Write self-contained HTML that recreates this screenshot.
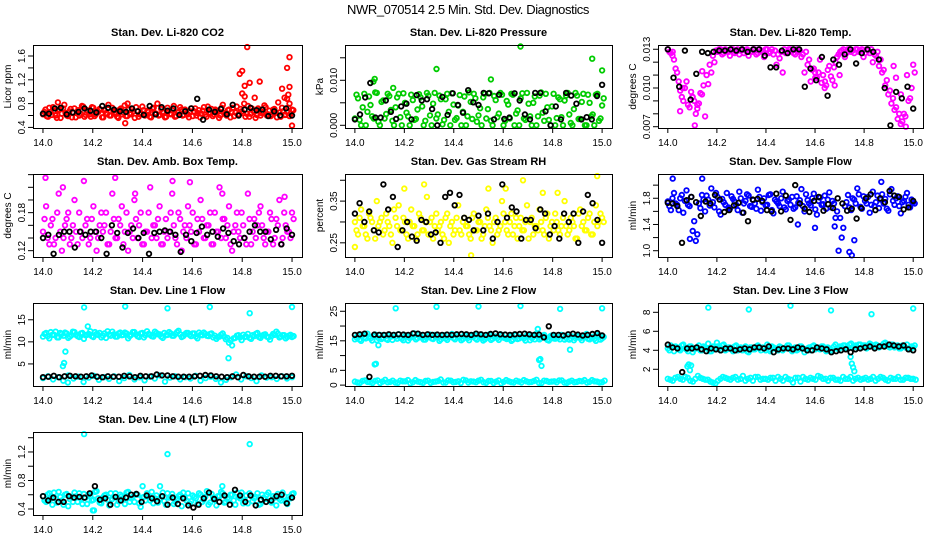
<!DOCTYPE html>
<html><head><meta charset="utf-8"><style>
body{margin:0;background:#fff;}
svg{display:block;font-family:"Liberation Sans",sans-serif;}
</style></head><body>
<svg id="chart" width="936" height="540" viewBox="0 0 936 540">
<rect width="936" height="540" fill="#fff"/>
<text x="468" y="14" text-anchor="middle" font-size="13" letter-spacing="-0.4">NWR_070514  2.5 Min. Std. Dev. Diagnostics</text>
</svg>
<script>
// ---- data ----
const xTicks = [14.0,14.2,14.4,14.6,14.8,15.0];
const xTickLabels = ["14.0","14.2","14.4","14.6","14.8","15.0"];

const co2Main = [0.62,0.70,0.58,0.66,0.74,0.60,0.68,0.56,0.72,0.64,0.59,0.71,0.65,0.57,0.69,0.63,0.75,0.61,0.67,0.58,0.73,0.62,0.66,0.70,0.57,0.64,0.78,0.60,0.68,0.63,0.56,0.72,0.65,0.59,0.70,0.62,0.67,0.74,0.58,0.64,0.69,0.61,0.66,0.57,0.73,0.63,0.60,0.71,0.65,0.58,0.68,0.62,0.76,0.59,0.66,0.70,0.61,0.64,0.57,0.72,0.67,0.60,0.69,0.63,0.74,0.58,0.65,0.71,0.62,0.68,0.56,0.73,0.64,0.60,0.70,0.66,0.59,0.75,0.62,0.67,0.80,0.63,0.58,0.72,0.66,0.61,0.69,0.64,0.77,0.60,0.68,0.62,0.71,0.57,0.65,0.73,0.61,0.66,0.59,0.70];
const co2MainB = [0.66,0.59,0.73,0.61,0.68,0.56,0.70,0.63,0.78,0.60,0.67,0.57,0.72,0.64,0.60,0.76,0.58,0.69,0.62,0.74,0.59,0.66,0.71,0.57,0.68,0.63,0.60,0.73,0.65,0.58,0.70,0.62,0.77,0.59,0.64,0.71,0.56,0.67,0.62,0.75,0.60,0.68,0.58,0.72,0.64,0.80,0.61,0.66,0.57,0.73,0.63,0.69,0.58,0.65,0.74,0.60,0.70,0.62,0.67,0.59,0.72,0.64,0.57,0.68,0.61,0.75,0.63,0.59,0.70,0.66,0.60,0.78,0.62,0.69,0.57,0.73,0.65,0.61,0.71,0.64,0.58,0.76,0.63,0.68,0.56,0.72,0.60,0.66,0.74,0.62,0.59,0.70,0.65,0.82,0.58,0.67,0.61,0.73,0.63,0.69];
const co2ExtraX = [14.33,14.79,14.80,14.81,14.82,14.83,14.85,14.87,14.96,14.98,14.985,14.99,14.99,14.98,15.0,14.06,14.34,14.8,14.81,14.97,14.99];
const co2ExtraY = [0.47,1.30,1.35,1.10,1.75,1.15,0.90,1.17,1.05,1.40,0.95,1.58,1.08,0.88,0.43,0.82,0.80,0.97,0.92,0.90,0.80];
const co2Black = [0.63,0.63,0.72,0.73,0.62,0.65,0.66,0.72,0.68,0.65,0.76,0.73,0.70,0.67,0.66,0.72,0.67,0.61,0.76,0.62,0.74,0.68,0.72,0.61,0.67,0.72,0.88,0.53,0.70,0.66,0.71,0.62,0.78,0.60,0.70,0.73,0.69,0.70,0.59,0.67,0.60,0.72,0.60];

const presMain = [0.0015,0.0060,0.0000,0.0070,0.0030,0.0045,0.0015,0.0072,0.0000,0.0055,0.0025,0.0065,0.0010,0.0040,0.0070,0.0000,0.0050,0.0020,0.0068,0.0012,0.0035,0.0062,0.0000,0.0072,0.0022,0.0048,0.0015,0.0066,0.0002,0.0058,0.0030,0.0071,0.0012,0.0044,0.0000,0.0064,0.0020,0.0052,0.0070,0.0008,0.0038,0.0062,0.0015,0.0072,0.0000,0.0056,0.0026,0.0068,0.0010,0.0046,0.0070,0.0000,0.0033,0.0060,0.0015,0.0072,0.0020,0.0050,0.0000,0.0066,0.0028,0.0070,0.0012,0.0042,0.0000,0.0062,0.0018,0.0055,0.0072,0.0005,0.0036,0.0066,0.0014,0.0070,0.0000,0.0050,0.0024,0.0068,0.0010,0.0044];
const presMainB = [0.0068,0.0012,0.0040,0.0000,0.0064,0.0020,0.0073,0.0008,0.0052,0.0015,0.0070,0.0034,0.0000,0.0062,0.0018,0.0071,0.0028,0.0000,0.0056,0.0014,0.0069,0.0042,0.0010,0.0066,0.0000,0.0072,0.0024,0.0058,0.0012,0.0070,0.0000,0.0046,0.0016,0.0067,0.0030,0.0000,0.0073,0.0014,0.0060,0.0022,0.0000,0.0070,0.0036,0.0010,0.0065,0.0018,0.0072,0.0000,0.0054,0.0015,0.0068,0.0026,0.0000,0.0071,0.0012,0.0048,0.0000,0.0064,0.0020,0.0073,0.0010,0.0040,0.0000,0.0070,0.0016,0.0058,0.0000,0.0066,0.0024,0.0000,0.0072,0.0014,0.0052,0.0000,0.0068,0.0020,0.0000,0.0070,0.0015,0.0060];
const presExtraX = [14.075,14.08,14.33,14.55,14.67,14.96,15.0,14.155];
const presExtraY = [0.0097,0.0103,0.0125,0.0102,0.0175,0.0148,0.0122,0.0083];
const presBlack = [0.0013,0.0024,0.0062,0.0094,0.0017,0.0017,0.0055,0.0030,0.0014,0.0042,0.0048,0.0013,0.0067,0.0055,0.0058,0.0036,0.0000,0.0063,0.0023,0.0071,0.0045,0.0028,0.0078,0.0051,0.0045,0.0072,0.0071,0.0013,0.0068,0.0014,0.0017,0.0071,0.0055,0.0024,0.0013,0.0072,0.0072,0.0031,0.0000,0.0042,0.0013,0.0072,0.0066,0.0048,0.0013,0.0018,0.0013,0.0065,0.0090];

const tempMain = [0.0130,0.0127,0.0122,0.0112,0.0098,0.0090,0.0105,0.0085,0.0093,0.0080,0.0088,0.0095,0.0078,0.0103,0.0112,0.0120,0.0128,0.0130,0.0127,0.0129,0.0125,0.0130,0.0128,0.0126,0.0130,0.0129,0.0125,0.0128,0.0130,0.0127,0.0129,0.0124,0.0130,0.0128,0.0126,0.0118,0.0123,0.0112,0.0127,0.0130,0.0129,0.0126,0.0128,0.0124,0.0112,0.0118,0.0105,0.0115,0.0108,0.0122,0.0110,0.0102,0.0117,0.0106,0.0120,0.0126,0.0129,0.0124,0.0130,0.0128,0.0127,0.0130,0.0129,0.0124,0.0130,0.0127,0.0120,0.0125,0.0117,0.0112,0.0102,0.0095,0.0088,0.0083,0.0076,0.0072,0.0080,0.0110,0.0092,0.0118];
const tempMainB = [0.0128,0.0125,0.0115,0.0105,0.0093,0.0100,0.0087,0.0097,0.0090,0.0084,0.0096,0.0102,0.0110,0.0118,0.0125,0.0129,0.0130,0.0126,0.0130,0.0128,0.0130,0.0127,0.0130,0.0129,0.0127,0.0130,0.0128,0.0130,0.0126,0.0130,0.0128,0.0130,0.0127,0.0130,0.0129,0.0126,0.0128,0.0130,0.0128,0.0130,0.0127,0.0130,0.0129,0.0126,0.0128,0.0122,0.0114,0.0108,0.0112,0.0104,0.0100,0.0114,0.0109,0.0116,0.0124,0.0128,0.0130,0.0127,0.0130,0.0129,0.0130,0.0128,0.0130,0.0127,0.0129,0.0130,0.0126,0.0128,0.0122,0.0114,0.0106,0.0098,0.0092,0.0085,0.0080,0.0074,0.0078,0.0090,0.0100,0.0112];
const tempExtraX = [14.02,14.06,14.10,14.12,14.14,14.05,14.60,14.64,14.68,14.70,14.93,14.95,14.97,14.92,14.11];
const tempExtraY = [0.0128,0.0100,0.0093,0.0087,0.0113,0.0082,0.0112,0.0105,0.0102,0.0110,0.0108,0.0095,0.0070,0.0117,0.0071];
const tempBlack = [0.0130,0.0108,0.0101,0.0129,0.0091,0.0111,0.0128,0.0127,0.0128,0.0129,0.0129,0.0130,0.0129,0.0130,0.0128,0.0130,0.0130,0.0125,0.0116,0.0116,0.0129,0.0127,0.0130,0.0130,0.0101,0.0115,0.0106,0.0124,0.0094,0.0122,0.0118,0.0126,0.0130,0.0119,0.0127,0.0130,0.0128,0.0122,0.0100,0.0071,0.0097,0.0092,0.0101,0.0084];

const ambMain = [0.15,0.19,0.13,0.17,0.14,0.21,0.12,0.16,0.18,0.14,0.20,0.13,0.15,0.23,0.17,0.14,0.19,0.12,0.16,0.15,0.18,0.13,0.21,0.14,0.17,0.19,0.15,0.12,0.16,0.20,0.14,0.18,0.13,0.15,0.22,0.16,0.14,0.19,0.13,0.17,0.15,0.21,0.14,0.18,0.12,0.16,0.19,0.15,0.13,0.17,0.20,0.14,0.16,0.18,0.13,0.15,0.22,0.17,0.14,0.19,0.12,0.16,0.15,0.18,0.14,0.21,0.13,0.17,0.16,0.19,0.14,0.15,0.18,0.13,0.17,0.20,0.14,0.16,0.15,0.18];
const ambMainB = [0.17,0.14,0.16,0.13,0.18,0.15,0.14,0.17,0.13,0.16,0.15,0.18,0.14,0.16,0.13,0.17,0.15,0.14,0.18,0.16,0.13,0.15,0.17,0.14,0.16,0.13,0.18,0.15,0.14,0.17,0.16,0.13,0.15,0.18,0.14,0.16,0.17,0.13,0.15,0.14,0.18,0.16,0.13,0.17,0.15,0.14,0.16,0.18,0.13,0.15,0.17,0.14,0.16,0.13,0.18,0.15,0.14,0.17,0.16,0.13,0.15,0.18,0.14,0.16,0.13,0.17,0.15,0.14,0.18,0.16,0.13,0.15,0.17,0.14,0.16,0.13,0.18,0.15,0.14,0.17];
const ambExtraX = [14.01,14.29,14.52,14.59,14.08,14.37,14.72,14.97];
const ambExtraY = [0.235,0.235,0.23,0.228,0.22,0.21,0.21,0.205];
const ambBlack = [0.14,0.145,0.115,0.145,0.15,0.15,0.125,0.15,0.145,0.15,0.15,0.14,0.115,0.16,0.148,0.125,0.148,0.155,0.14,0.148,0.115,0.148,0.15,0.152,0.15,0.145,0.118,0.145,0.135,0.148,0.158,0.145,0.15,0.142,0.155,0.148,0.135,0.13,0.14,0.15,0.16,0.15,0.15,0.138,0.153,0.13,0.155,0.145];

const rhMain = [0.30,0.27,0.33,0.29,0.26,0.31,0.28,0.35,0.30,0.27,0.32,0.29,0.25,0.31,0.34,0.28,0.30,0.26,0.33,0.29,0.27,0.31,0.28,0.36,0.30,0.26,0.32,0.29,0.27,0.31,0.25,0.30,0.28,0.34,0.27,0.31,0.29,0.26,0.32,0.28,0.30,0.27,0.33,0.29,0.25,0.31,0.28,0.35,0.30,0.27,0.32,0.29,0.26,0.31,0.28,0.34,0.30,0.27,0.29,0.33,0.28,0.31,0.26,0.30,0.32,0.28,0.29,0.35,0.27,0.31,0.29,0.26,0.33,0.30,0.28,0.32,0.27,0.34,0.30,0.31];
const rhMainB = [0.28,0.31,0.29,0.27,0.32,0.30,0.26,0.29,0.31,0.28,0.30,0.27,0.33,0.29,0.28,0.31,0.27,0.30,0.29,0.26,0.32,0.28,0.30,0.27,0.31,0.29,0.28,0.30,0.26,0.32,0.29,0.27,0.31,0.28,0.30,0.29,0.27,0.31,0.28,0.30,0.26,0.29,0.31,0.28,0.30,0.27,0.29,0.32,0.28,0.30,0.27,0.31,0.29,0.28,0.30,0.26,0.31,0.29,0.28,0.30,0.27,0.32,0.29,0.28,0.30,0.27,0.31,0.29,0.28,0.30,0.26,0.32,0.29,0.28,0.31,0.27,0.30,0.29,0.32,0.30];
const rhExtraX = [14.0,14.20,14.47,14.54,14.61,14.68,14.76,14.98,14.28,14.82];
const rhExtraY = [0.24,0.38,0.22,0.38,0.38,0.40,0.37,0.41,0.39,0.37];
const rhBlack = [0.32,0.345,0.30,0.325,0.28,0.275,0.39,0.33,0.36,0.24,0.28,0.30,0.265,0.255,0.305,0.30,0.27,0.275,0.25,0.36,0.37,0.34,0.365,0.31,0.305,0.28,0.315,0.28,0.32,0.26,0.30,0.39,0.31,0.335,0.325,0.26,0.305,0.305,0.285,0.33,0.32,0.27,0.29,0.26,0.32,0.30,0.32,0.25,0.325,0.365,0.345,0.305,0.25];

const flowMain = [1.75,1.62,1.88,1.70,1.80,1.58,1.92,1.68,1.30,1.15,1.72,1.85,1.60,1.78,1.95,1.66,1.82,1.55,1.74,1.88,1.64,1.79,1.70,1.90,1.58,1.76,1.84,1.67,1.72,1.93,1.61,1.80,1.70,1.86,1.57,1.75,1.68,1.90,1.63,1.78,1.82,1.66,1.73,1.94,1.60,1.77,1.69,1.87,1.55,1.81,1.71,1.64,1.89,1.76,1.50,1.00,1.20,1.68,1.85,1.62,1.78,1.95,1.67,1.83,1.72,1.58,1.90,1.74,1.65,1.86,1.79,1.61,1.94,1.70,1.83,1.57,1.76,1.88,1.66,1.74];
const flowMainB = [1.68,1.80,1.72,1.62,1.85,1.76,1.70,1.82,1.45,1.25,1.65,1.78,1.84,1.69,1.74,1.88,1.60,1.79,1.70,1.66,1.83,1.75,1.62,1.80,1.72,1.86,1.68,1.77,1.64,1.82,1.74,1.69,1.85,1.62,1.78,1.72,1.80,1.66,1.76,1.70,1.64,1.83,1.77,1.68,1.86,1.72,1.80,1.63,1.76,1.70,1.84,1.78,1.66,1.72,1.60,1.50,1.35,1.74,1.66,1.80,1.72,1.86,1.64,1.76,1.82,1.70,1.68,1.84,1.78,1.72,1.64,1.86,1.76,1.80,1.68,1.74,1.82,1.70,1.78,1.72];
const flowExtraX = [14.02,14.14,14.09,14.75,14.74,14.76,14.53,14.60,14.68,14.87];
const flowExtraY = [2.10,2.10,1.18,0.93,0.98,1.16,1.40,1.35,1.37,2.05];
const flowBlack = [1.73,1.72,1.68,1.12,1.77,1.82,1.74,1.53,1.75,1.72,1.85,1.78,1.59,1.62,1.69,1.73,1.58,1.45,1.78,1.79,1.76,1.62,1.60,1.87,1.60,1.84,1.47,2.00,1.72,1.64,1.59,1.76,1.82,1.61,1.71,1.65,1.80,1.72,1.61,1.64,1.49,1.65,1.80,1.86,1.62,1.80,1.74,1.91,1.84,1.82,1.63,1.66,1.76];

const l1Main = [11.2,12.0,10.8,11.6,12.3,11.0,11.8,12.1,10.9,11.5,12.2,11.3,11.9,10.7,11.6,12.4,11.1,11.8,12.0,11.4,10.9,11.7,12.3,11.2,11.9,11.5,12.1,10.8,11.6,12.2,11.3,11.9,11.0,12.4,11.6,11.2,12.0,11.7,10.9,11.5,12.2,11.4,11.8,12.5,11.1,11.7,12.0,11.3,11.9,10.8,11.6,12.1,11.4,11.8,11.0,10.7,11.2,11.9,10.6,9.8,9.2,10.9,11.5,10.4,11.1,11.8,10.7,11.3,12.0,10.9,11.6,11.2,10.5,11.8,12.3,11.0,11.5,10.8,11.4,11.1];
const l1MainB = [11.8,11.3,12.2,11.6,11.0,12.0,11.4,11.9,11.2,12.3,11.6,11.1,12.0,11.5,11.8,11.3,12.2,11.6,11.0,11.9,12.4,11.4,11.7,11.2,12.1,11.6,11.9,11.3,12.2,11.7,11.1,12.0,11.5,11.8,11.3,12.3,11.7,11.2,12.0,11.6,11.9,11.4,12.2,11.7,11.3,12.0,11.6,11.9,11.2,12.1,11.5,11.8,11.3,11.9,11.4,11.1,11.6,11.2,10.9,10.3,10.8,11.4,11.0,11.6,11.2,10.9,11.5,11.8,11.1,11.4,11.7,11.0,11.3,11.6,11.9,11.2,11.5,11.1,11.6,11.3];
const l1Low = [1.8,2.2,1.5,2.0,1.2,2.4,1.7,2.1,0.9,1.9,2.3,1.4,2.0,1.6,2.2,1.1,1.8,2.5,1.5,2.0,1.3,2.1,1.7,2.4,1.0,1.9,2.2,1.5,2.0,1.7,2.3,1.2,1.8,2.1,1.6,0.8,1.4,2.0,2.6,1.5,2.2,1.8,1.1,2.4,1.9,2.0,1.6,2.2,1.7,2.0];
const l1ExtraX = [14.08,14.085,14.09,14.1,14.165,14.18,14.33,14.50,14.67,14.745,14.83,15.0];
const l1ExtraY = [4.5,5.2,7.8,0.8,17.8,13.5,18.0,17.6,17.9,6.3,16.5,17.9];
const l1Black = [2.0,2.1,2.3,2.0,2.2,2.3,2.2,2.1,2.2,2.4,2.1,2.0,2.2,2.1,2.1,2.3,2.2,2.0,2.3,2.2,2.2,2.6,2.4,2.4,2.2,2.1,2.1,2.1,2.2,2.3,2.5,2.4,2.2,2.1,2.0,2.2,2.0,2.5,2.2,2.1,2.1,2.1,2.3,2.3,2.2,2.2,2.3];

const l2Main = [15.5,16.8,15.0,16.2,17.4,15.8,16.5,15.2,17.0,16.0,15.6,16.9,15.3,16.4,17.2,15.7,16.6,15.1,16.3,17.5,15.9,16.7,15.4,16.1,17.1,15.6,16.4,15.0,16.8,15.8,16.2,17.3,15.5,16.6,15.2,16.9,15.9,16.3,17.0,15.4,16.7,15.1,16.0,17.2,15.7,16.5,15.3,16.8,15.9,16.2,15.0,17.1,15.6,16.4,15.8,16.9,15.2,16.3,17.4,15.5,16.6,15.9,15.1,16.8,15.7,16.2,17.0,15.4,16.5,15.8,15.2,16.7,15.9,16.1,17.3,15.5,16.4,15.0,16.6,15.8];
const l2MainB = [16.2,15.4,16.9,15.8,16.5,15.1,17.1,16.0,15.6,16.7,15.3,16.4,17.0,15.7,16.1,15.2,16.8,15.9,16.3,15.5,17.2,16.0,15.4,16.6,15.8,17.0,16.2,15.5,16.9,15.3,16.5,15.9,17.1,16.1,15.6,16.7,15.2,16.4,15.8,17.0,16.0,15.5,16.8,15.3,16.3,15.9,17.2,16.1,15.6,16.6,15.4,16.9,15.8,16.2,15.1,16.7,16.0,15.5,16.4,15.9,17.0,15.3,16.6,15.8,16.1,15.5,16.8,16.0,15.4,16.5,15.9,16.3,15.2,16.7,15.7,16.1,15.6,16.9,15.4,16.3];
const l2Low = [1.2,0.8,1.6,1.0,1.4,0.7,1.8,1.1,0.9,1.5,1.3,0.6,1.7,1.0,1.4,0.8,1.2,1.9,0.9,1.5,1.1,0.7,1.6,1.3,1.0,1.8,0.8,1.4,1.2,0.6,1.7,1.0,1.5,0.9,1.3,1.1,1.8,0.7,1.4,1.2,1.0,1.6,0.8,1.5,1.1,1.3,0.9,1.7,1.2,1.0];
const l2LowB = [0.9,1.4,1.1,0.7,1.6,1.2,1.0,1.5,0.8,1.3,1.7,1.0,1.2,0.8,1.5,1.1,1.4,0.9,1.6,1.0,1.3,1.8,0.9,1.2,1.5,1.0,1.4,0.7,1.6,1.1,1.3,0.9,1.2,1.7,1.0,1.4,0.8,1.5,1.1,1.3,1.6,0.9,1.2,1.0,1.4,1.7,1.1,1.3,0.9,1.5];
const l2ExtraX = [14.08,14.085,14.095,14.165,14.33,14.50,14.67,14.74,14.745,14.75,14.755,14.87,14.83,15.0];
const l2ExtraY = [7.0,7.2,13.5,26.0,26.5,26.6,26.8,19.0,8.5,8.8,6.5,12.0,25.8,26.0];
const l2Black = [17.0,17.2,17.4,2.8,17.1,17.0,17.0,17.2,17.0,17.2,17.1,17.0,17.5,17.4,17.0,17.2,17.0,17.1,17.0,17.1,17.0,17.2,17.3,17.2,17.0,17.4,17.2,17.0,17.3,17.5,17.2,17.1,17.0,17.2,17.3,17.4,17.2,17.0,17.1,16.2,19.9,17.0,17.0,16.8,17.2,17.4,17.1,16.8,17.0,17.3,17.6,16.8];

const l3Main = [4.2,4.5,3.9,4.3,4.0,4.6,4.1,4.4,3.8,4.2,4.5,4.0,4.3,4.7,3.9,4.2,4.4,4.0,4.6,4.1,4.3,3.9,4.5,4.2,4.0,4.4,3.8,4.3,4.1,4.5,4.0,4.2,4.6,3.9,4.3,4.1,4.4,4.0,4.2,4.5,3.9,4.3,4.1,4.4,3.8,4.2,4.0,4.5,4.3,4.1,4.4,3.9,4.2,4.0,4.6,4.1,4.3,4.5,4.2,4.7,4.4,4.3,4.6,4.5,4.2,4.7,4.4,4.6,4.3,4.5,4.8,4.4,4.6,4.3,4.5,4.2,4.4,4.6,4.1,4.3];
const l3MainB = [4.0,4.3,4.4,4.1,4.5,4.2,3.9,4.4,4.1,4.3,4.0,4.4,4.2,3.9,4.4,4.1,4.2,4.5,4.0,4.3,4.1,4.4,4.0,4.3,4.2,3.9,4.3,4.1,4.4,4.2,4.3,4.0,4.1,4.4,4.2,4.0,4.3,4.2,4.5,4.1,4.2,4.0,4.4,4.2,4.1,4.3,4.4,4.1,4.2,4.4,4.1,4.3,4.0,4.4,4.2,4.4,4.5,4.2,4.6,4.3,4.5,4.6,4.3,4.5,4.4,4.6,4.3,4.5,4.4,4.7,4.5,4.3,4.6,4.4,4.2,4.5,4.3,4.2,4.4,4.5];
const l3Low = [1.0,0.8,1.2,0.9,1.1,0.7,1.3,1.0,0.9,0.6,0.8,1.2,1.0,1.1,0.9,1.3,1.0,0.8,1.2,1.0,0.9,1.1,1.2,0.8,1.0,0.6,1.1,1.2,0.9,1.0,1.3,1.0,0.8,1.1,0.9,1.2,1.0,0.8,1.1,1.0,0.9,1.2,1.0,1.1,0.8,1.0,1.2,0.9,1.1,1.0];
const l3LowB = [0.9,1.1,1.0,1.2,0.8,1.0,1.1,0.9,0.7,0.5,1.0,1.1,0.9,1.2,1.0,0.8,1.1,1.2,0.9,1.0,1.1,0.8,1.0,1.2,0.9,1.1,0.7,1.0,1.1,0.9,1.2,1.0,1.1,0.9,0.8,1.0,1.2,1.0,0.9,1.1,1.0,0.8,1.2,0.9,1.1,1.0,0.9,1.1,1.0,0.9];
const l3ExtraX = [14.08,14.085,14.09,14.095,14.165,14.33,14.50,14.665,14.75,14.755,14.76,14.745,14.83,15.0,14.2];
const l3ExtraY = [2.3,2.5,1.9,2.4,8.5,8.3,8.7,8.2,2.6,2.2,1.8,3.3,7.8,8.4,4.8];
const l3Black = [4.6,4.3,4.2,1.7,4.2,4.2,4.3,4.1,3.9,4.2,4.1,4.0,4.2,4.2,4.0,4.1,4.2,4.1,4.3,4.3,4.2,4.4,3.8,4.1,4.2,4.2,4.1,4.3,4.2,4.0,4.0,4.3,4.2,4.1,3.8,3.9,4.0,4.1,3.8,4.1,4.2,4.3,4.4,4.2,4.4,4.4,4.6,4.5,4.4,4.5,4.1,4.0];

const l4Main = [0.58,0.50,0.62,0.46,0.55,0.64,0.52,0.60,0.44,0.57,0.63,0.50,0.55,0.61,0.47,0.58,0.53,0.65,0.49,0.56,0.60,0.45,0.54,0.62,0.51,0.58,0.47,0.64,0.55,0.50,0.60,0.43,0.57,0.62,0.52,0.48,0.59,0.54,0.63,0.46,0.56,0.61,0.50,0.58,0.44,0.55,0.62,0.51,0.57,0.47,0.60,0.53,0.65,0.49,0.56,0.45,0.58,0.62,0.50,0.54,0.60,0.46,0.57,0.63,0.52,0.48,0.59,0.55,0.62,0.47,0.56,0.60,0.51,0.58,0.45,0.54,0.63,0.50,0.57,0.61];
const l4MainB = [0.52,0.60,0.55,0.63,0.49,0.57,0.46,0.61,0.54,0.50,0.58,0.62,0.47,0.56,0.60,0.52,0.64,0.55,0.48,0.59,0.53,0.62,0.57,0.46,0.60,0.54,0.63,0.50,0.57,0.61,0.48,0.56,0.52,0.59,0.64,0.55,0.49,0.58,0.51,0.62,0.57,0.47,0.54,0.60,0.63,0.52,0.48,0.59,0.55,0.62,0.50,0.57,0.46,0.61,0.53,0.58,0.64,0.49,0.56,0.60,0.52,0.63,0.55,0.48,0.59,0.62,0.51,0.57,0.46,0.60,0.54,0.63,0.49,0.56,0.61,0.52,0.58,0.47,0.55,0.62];
const l4ExtraX = [14.165,14.50,14.83,14.2,14.205,14.4,14.47,14.72];
const l4ExtraY = [1.45,1.17,1.31,0.38,0.38,0.72,0.72,0.72];
const l4Black = [0.58,0.52,0.56,0.50,0.50,0.58,0.56,0.57,0.56,0.62,0.72,0.53,0.55,0.46,0.57,0.52,0.56,0.60,0.61,0.50,0.59,0.55,0.51,0.58,0.46,0.56,0.47,0.55,0.45,0.42,0.46,0.55,0.63,0.54,0.50,0.59,0.46,0.67,0.59,0.50,0.59,0.45,0.53,0.50,0.52,0.58,0.60,0.48,0.56];

// y-axis ticks per panel
const ticksCO2 = [0.4,0.6,0.8,1.0,1.2,1.4,1.6]; const labCO2 = ["0.4","","0.8","","1.2","","1.6"];
const ticksPres = [0,0.005,0.010,0.015]; const labPres = ["0.000","","0.010",""];
const ticksTemp = [0.007,0.008,0.009,0.010,0.011,0.012,0.013]; const labTemp = ["0.007","","","0.010","","","0.013"];
const ticksAmb = [0.12,0.14,0.16,0.18,0.20,0.22,0.24]; const labAmb = ["0.12","","","0.18","","",""];
const ticksRH = [0.25,0.30,0.35,0.40]; const labRH = ["0.25","","0.35",""];
const ticksFlow = [1.0,1.2,1.4,1.6,1.8,2.0]; const labFlow = ["1.0","","1.4","","1.8",""];
const ticksL1 = [5,10,15]; const labL1 = ["5","10","15"];
const ticksL2 = [0,5,10,15,20,25]; const labL2 = ["0","5","","15","","25"];
const ticksL3 = [2,4,6,8]; const labL3 = ["2","4","6","8"];
const ticksL4 = [0.4,0.6,0.8,1.0,1.2,1.4]; const labL4 = ["0.4","","0.8","","1.2",""];

// ---- layout & drawing ----
const NS = "http://www.w3.org/2000/svg";
const svg = document.getElementById('chart');
const cols = [[33,302],[345,612],[658,923]];
const rowTops = [45,174,303,432];
const PH = 83;
const XD = [13.96,15.04];
function mk(tag, attrs, parent){const e=document.createElementNS(NS,tag);for(const k in attrs)e.setAttribute(k,attrs[k]);(parent||svg).appendChild(e);return e;}
function even(n, off){const a=[];const o=off||0;for(let i=0;i<n;i++)a.push(14.0+(i+o)/(n-1));return a;}

const panels = [
 {name:"co2",title:"Stan. Dev. Li-820 CO2",ylab:"Licor ppm",c:0,r:0,yd:[0.39,1.785],ticks:ticksCO2,labs:labCO2,col:"#ff0000",series:[[null,co2Main],[null,co2MainB],[co2ExtraX,co2ExtraY]],black:co2Black},
 {name:"pressure",title:"Stan. Dev. Li-820 Pressure",ylab:"kPa",c:1,r:0,yd:[-0.0006,0.01784],ticks:ticksPres,labs:labPres,col:"#00cc00",series:[[null,presMain],[null,presMainB],[presExtraX,presExtraY]],black:presBlack},
 {name:"li820-temp",title:"Stan. Dev. Li-820 Temp.",ylab:"degrees C",c:2,r:0,yd:[0.0069,0.01333],ticks:ticksTemp,labs:labTemp,col:"#ff00ff",series:[[null,tempMain],[null,tempMainB],[tempExtraX,tempExtraY]],black:tempBlack},
 {name:"amb-box-temp",title:"Stan. Dev. Amb. Box Temp.",ylab:"degrees C",c:0,r:1,yd:[0.110,0.241],ticks:ticksAmb,labs:labAmb,col:"#ff00ff",series:[[null,ambMain],[null,ambMainB],[ambExtraX,ambExtraY]],black:ambBlack},
 {name:"gas-rh",title:"Stan. Dev. Gas Stream RH",ylab:"percent",c:1,r:1,yd:[0.216,0.415],ticks:ticksRH,labs:labRH,col:"#ffff00",series:[[null,rhMain],[null,rhMainB],[rhExtraX,rhExtraY]],black:rhBlack},
 {name:"sample-flow",title:"Stan. Dev. Sample Flow",ylab:"ml/min",c:2,r:1,yd:[0.904,2.17],ticks:ticksFlow,labs:labFlow,col:"#0000ff",series:[[null,flowMain],[null,flowMainB],[flowExtraX,flowExtraY]],black:flowBlack},
 {name:"line1-flow",title:"Stan. Dev. Line 1 Flow",ylab:"ml/min",c:0,r:2,yd:[0,18.8],ticks:ticksL1,labs:labL1,col:"#00ffff",series:[[null,l1Main],[null,l1MainB],[null,l1Low],[l1ExtraX,l1ExtraY]],black:l1Black},
 {name:"line2-flow",title:"Stan. Dev. Line 2 Flow",ylab:"ml/min",c:1,r:2,yd:[-0.3,27.8],ticks:ticksL2,labs:labL2,col:"#00ffff",series:[[null,l2Main],[null,l2MainB],[null,l2Low],[null,l2LowB],[l2ExtraX,l2ExtraY]],black:l2Black},
 {name:"line3-flow",title:"Stan. Dev. Line 3 Flow",ylab:"ml/min",c:2,r:2,yd:[0.24,8.98],ticks:ticksL3,labs:labL3,col:"#00ffff",series:[[null,l3Main],[null,l3MainB],[null,l3Low],[null,l3LowB],[l3ExtraX,l3ExtraY]],black:l3Black},
 {name:"line4-flow",title:"Stan. Dev. Line 4 (LT) Flow",ylab:"ml/min",c:0,r:3,yd:[0.316,1.48],ticks:ticksL4,labs:labL4,col:"#00ffff",series:[[null,l4Main],[null,l4MainB],[l4ExtraX,l4ExtraY]],black:l4Black}
];

panels.forEach(p=>{
  const L=cols[p.c][0], R=cols[p.c][1], T=rowTops[p.r], B=T+PH;
  const xs=v=>L+(v-XD[0])/(XD[1]-XD[0])*(R-L);
  const ys=v=>B-(v-p.yd[0])/(p.yd[1]-p.yd[0])*(B-T);
  const g=mk('g',{});
  
  
  const t=mk('text',{x:(L+R)/2,y:T-9,'text-anchor':'middle','font-size':'11','font-weight':'bold'},g);
  t.textContent=p.title;
  
  
  const yl=mk('text',{x:0,y:0,'text-anchor':'middle','font-size':'10',transform:`translate(${L-22},${(T+B)/2}) rotate(-90)`},g);
  yl.textContent=p.ylab;
  
  
  const pg=mk('g',{fill:'none','stroke-width':'1.8'},g);
  
  
  p.series.forEach((s,si)=>{
    const vals=s[1], xv=s[0]||even(vals.length, si%2?0.5:0);
    vals.forEach((v,i)=>{
      const c=mk('circle',{cx:xs(xv[i]).toFixed(1),cy:ys(v).toFixed(1),r:'2.3',stroke:p.col},pg);
      
      
    });
  });
  const bx=even(p.black.length);
  p.black.forEach((v,i)=>{
    const c=mk('circle',{cx:xs(bx[i]).toFixed(1),cy:ys(v).toFixed(1),r:'2.3',stroke:'#000'},pg);
    
    
  });
  const bxr=mk('rect',{x:L+0.5,y:T+0.5,width:R-L,height:B-T,fill:'none',stroke:'#000','stroke-width':'1'},g);
  
  
  xTicks.forEach((v,i)=>{
    const x=xs(v);
    mk('line',{x1:x,x2:x,y1:B,y2:B+5,stroke:'#000'},g);
    const tl=mk('text',{x:x,y:B+18,'text-anchor':'middle','font-size':'10'},g);
    tl.textContent=xTickLabels[i];
    
    
  });
  p.ticks.forEach((v,i)=>{
    const y=ys(v);
    mk('line',{x1:L-5,x2:L,y1:y,y2:y,stroke:'#000'},g);
    if(p.labs[i]){
      const tl=mk('text',{x:0,y:0,'text-anchor':'middle','font-size':'10',transform:`translate(${L-8},${y}) rotate(-90)`},g);
      tl.textContent=p.labs[i];
      
      
    }
  });
});
</script>
</body></html>
